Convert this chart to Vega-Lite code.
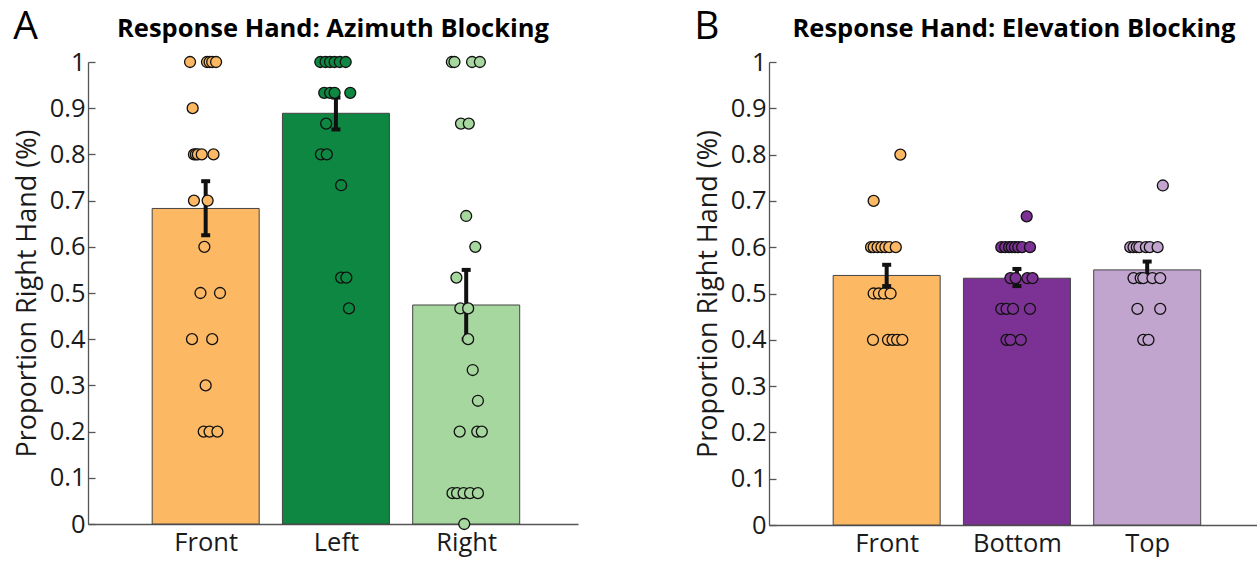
{
  "$schema": "https://vega.github.io/schema/vega-lite/v6.json",
  "background": "white",
  "padding": {"left": 13, "top": 7, "right": 0, "bottom": 0},
  "config": {
    "font": "Open Sans",
    "view": {"stroke": null},
    "axis": {"domainColor": "#555", "tickColor": "#555", "domainWidth": 1.3, "tickWidth": 1.3, "labelColor": "#1a1a1a", "titleColor": "#1a1a1a", "labelFontSize": 25.5, "titleFontSize": 27, "titleFontWeight": "normal", "grid": false},
    "title": {"fontSize": 25.5, "fontWeight": "bold", "color": "#000", "offset": 8}
  },
  "datasets": {
    "barsA": [
      {"cond": "Front", "pos": 1, "mean": 0.683, "lo": 0.625, "hi": 0.742},
      {"cond": "Left", "pos": 2, "mean": 0.889, "lo": 0.854, "hi": 0.923},
      {"cond": "Right", "pos": 3, "mean": 0.474, "lo": 0.400, "hi": 0.550}
    ],
    "barsB": [
      {"cond": "Front", "pos": 1, "mean": 0.539, "lo": 0.516, "hi": 0.562},
      {"cond": "Bottom", "pos": 2, "mean": 0.533, "lo": 0.516, "hi": 0.553},
      {"cond": "Top", "pos": 3, "mean": 0.551, "lo": 0.535, "hi": 0.569}
    ],
    "ptsA": [
      {"cond": "Front", "x": 0.88, "y": 1}, {"cond": "Front", "x": 1.01, "y": 1}, {"cond": "Front", "x": 1.03, "y": 1}, {"cond": "Front", "x": 1.05, "y": 1}, {"cond": "Front", "x": 1.08, "y": 1},
      {"cond": "Front", "x": 0.90, "y": 0.9},
      {"cond": "Front", "x": 0.91, "y": 0.8}, {"cond": "Front", "x": 0.925, "y": 0.8}, {"cond": "Front", "x": 0.94, "y": 0.8}, {"cond": "Front", "x": 0.97, "y": 0.8}, {"cond": "Front", "x": 1.06, "y": 0.8},
      {"cond": "Front", "x": 0.91, "y": 0.7}, {"cond": "Front", "x": 1.015, "y": 0.7},
      {"cond": "Front", "x": 0.99, "y": 0.6},
      {"cond": "Front", "x": 0.96, "y": 0.5}, {"cond": "Front", "x": 1.11, "y": 0.5},
      {"cond": "Front", "x": 0.895, "y": 0.4}, {"cond": "Front", "x": 1.05, "y": 0.4},
      {"cond": "Front", "x": 1.0, "y": 0.3},
      {"cond": "Front", "x": 0.985, "y": 0.2}, {"cond": "Front", "x": 1.03, "y": 0.2}, {"cond": "Front", "x": 1.09, "y": 0.2},
      {"cond": "Left", "x": 1.88, "y": 1}, {"cond": "Left", "x": 1.92, "y": 1}, {"cond": "Left", "x": 1.955, "y": 1}, {"cond": "Left", "x": 1.99, "y": 1}, {"cond": "Left", "x": 2.03, "y": 1}, {"cond": "Left", "x": 2.075, "y": 1},
      {"cond": "Left", "x": 1.91, "y": 0.9333}, {"cond": "Left", "x": 1.955, "y": 0.9333}, {"cond": "Left", "x": 1.99, "y": 0.9333}, {"cond": "Left", "x": 2.11, "y": 0.9333},
      {"cond": "Left", "x": 1.925, "y": 0.8667},
      {"cond": "Left", "x": 1.885, "y": 0.8}, {"cond": "Left", "x": 1.93, "y": 0.8},
      {"cond": "Left", "x": 2.04, "y": 0.7333},
      {"cond": "Left", "x": 2.04, "y": 0.5333}, {"cond": "Left", "x": 2.08, "y": 0.5333},
      {"cond": "Left", "x": 2.10, "y": 0.4667},
      {"cond": "Right", "x": 2.89, "y": 1}, {"cond": "Right", "x": 2.91, "y": 1}, {"cond": "Right", "x": 3.045, "y": 1}, {"cond": "Right", "x": 3.105, "y": 1},
      {"cond": "Right", "x": 2.96, "y": 0.8667}, {"cond": "Right", "x": 3.02, "y": 0.8667},
      {"cond": "Right", "x": 3.0, "y": 0.6667},
      {"cond": "Right", "x": 3.07, "y": 0.6},
      {"cond": "Right", "x": 2.925, "y": 0.5333},
      {"cond": "Right", "x": 2.955, "y": 0.4667}, {"cond": "Right", "x": 3.015, "y": 0.4667},
      {"cond": "Right", "x": 3.015, "y": 0.4},
      {"cond": "Right", "x": 3.05, "y": 0.3333},
      {"cond": "Right", "x": 3.09, "y": 0.2667},
      {"cond": "Right", "x": 2.95, "y": 0.2}, {"cond": "Right", "x": 3.085, "y": 0.2}, {"cond": "Right", "x": 3.12, "y": 0.2},
      {"cond": "Right", "x": 2.895, "y": 0.0667}, {"cond": "Right", "x": 2.93, "y": 0.0667}, {"cond": "Right", "x": 2.98, "y": 0.0667}, {"cond": "Right", "x": 3.03, "y": 0.0667}, {"cond": "Right", "x": 3.09, "y": 0.0667},
      {"cond": "Right", "x": 2.985, "y": 0}
    ],
    "ptsB": [
      {"cond": "Front", "x": 1.105, "y": 0.8},
      {"cond": "Front", "x": 0.90, "y": 0.7},
      {"cond": "Front", "x": 0.88, "y": 0.6}, {"cond": "Front", "x": 0.90, "y": 0.6}, {"cond": "Front", "x": 0.93, "y": 0.6}, {"cond": "Front", "x": 0.96, "y": 0.6}, {"cond": "Front", "x": 0.99, "y": 0.6}, {"cond": "Front", "x": 1.02, "y": 0.6}, {"cond": "Front", "x": 1.07, "y": 0.6},
      {"cond": "Front", "x": 0.90, "y": 0.5}, {"cond": "Front", "x": 0.94, "y": 0.5}, {"cond": "Front", "x": 0.98, "y": 0.5}, {"cond": "Front", "x": 1.03, "y": 0.5},
      {"cond": "Front", "x": 0.895, "y": 0.4}, {"cond": "Front", "x": 1.01, "y": 0.4}, {"cond": "Front", "x": 1.045, "y": 0.4}, {"cond": "Front", "x": 1.08, "y": 0.4}, {"cond": "Front", "x": 1.12, "y": 0.4},
      {"cond": "Bottom", "x": 2.075, "y": 0.6667},
      {"cond": "Bottom", "x": 1.88, "y": 0.6}, {"cond": "Bottom", "x": 1.91, "y": 0.6}, {"cond": "Bottom", "x": 1.94, "y": 0.6}, {"cond": "Bottom", "x": 1.96, "y": 0.6}, {"cond": "Bottom", "x": 1.985, "y": 0.6}, {"cond": "Bottom", "x": 2.01, "y": 0.6}, {"cond": "Bottom", "x": 2.04, "y": 0.6}, {"cond": "Bottom", "x": 2.10, "y": 0.6},
      {"cond": "Bottom", "x": 1.95, "y": 0.5333}, {"cond": "Bottom", "x": 1.99, "y": 0.5333}, {"cond": "Bottom", "x": 2.08, "y": 0.5333}, {"cond": "Bottom", "x": 2.12, "y": 0.5333},
      {"cond": "Bottom", "x": 1.88, "y": 0.4667}, {"cond": "Bottom", "x": 1.92, "y": 0.4667}, {"cond": "Bottom", "x": 1.97, "y": 0.4667}, {"cond": "Bottom", "x": 2.10, "y": 0.4667},
      {"cond": "Bottom", "x": 1.92, "y": 0.4}, {"cond": "Bottom", "x": 1.95, "y": 0.4}, {"cond": "Bottom", "x": 2.03, "y": 0.4},
      {"cond": "Top", "x": 3.12, "y": 0.7333},
      {"cond": "Top", "x": 2.87, "y": 0.6}, {"cond": "Top", "x": 2.895, "y": 0.6}, {"cond": "Top", "x": 2.92, "y": 0.6}, {"cond": "Top", "x": 2.94, "y": 0.6}, {"cond": "Top", "x": 2.99, "y": 0.6}, {"cond": "Top", "x": 3.02, "y": 0.6}, {"cond": "Top", "x": 3.08, "y": 0.6},
      {"cond": "Top", "x": 2.895, "y": 0.5333}, {"cond": "Top", "x": 2.95, "y": 0.5333}, {"cond": "Top", "x": 2.97, "y": 0.5333}, {"cond": "Top", "x": 3.04, "y": 0.5333}, {"cond": "Top", "x": 3.10, "y": 0.5333},
      {"cond": "Top", "x": 2.925, "y": 0.4667}, {"cond": "Top", "x": 3.10, "y": 0.4667},
      {"cond": "Top", "x": 2.97, "y": 0.4}, {"cond": "Top", "x": 3.01, "y": 0.4}
    ]
  },
  "resolve": {"scale": {"fill": "independent"}},
  "spacing": 116,
  "hconcat": [
    {
      "title": {"text": "A", "anchor": "start", "fontSize": 39, "fontWeight": "normal", "offset": -30},
      "hconcat": [
        {
          "width": 490, "height": 462,
          "title": {"text": "Response Hand: Azimuth Blocking"},
          "layer": [
            {
              "data": {"name": "barsA"},
              "mark": {"type": "bar", "size": 107, "stroke": "#444", "strokeWidth": 1},
              "encoding": {
                "x": {"field": "pos", "type": "quantitative", "title": null, "scale": {"domain": [0.135, 3.82], "nice": false, "zero": false}, "axis": {"values": [1, 2, 3], "labelExpr": "datum.value == 1 ? 'Front' : datum.value == 2 ? 'Left' : 'Right'", "tickSize": -7, "labelPadding": 13, "labelFontSize": 25.5}},
                "y": {"field": "mean", "type": "quantitative", "title": "Proportion Right Hand (%)", "scale": {"domain": [0, 1], "nice": false}, "axis": {"values": [0, 0.1, 0.2, 0.3, 0.4, 0.5, 0.6, 0.7, 0.8, 0.9, 1], "format": ".1~f", "tickSize": -7, "labelPadding": 10, "titlePadding": 8}},
                "fill": {"field": "cond", "type": "nominal", "scale": {"domain": ["Front", "Left", "Right"], "range": ["#fdb863", "#0e8742", "#a6d79e"]}, "legend": null}
              }
            },
            {
              "data": {"name": "barsA"},
              "mark": {"type": "rule", "strokeWidth": 4, "color": "#111"},
              "encoding": {
                "x": {"field": "pos", "type": "quantitative", "title": null},
                "y": {"field": "lo", "type": "quantitative", "title": "Proportion Right Hand (%)"},
                "y2": {"field": "hi"}
              }
            },
            {
              "data": {"name": "barsA"},
              "mark": {"type": "tick", "orient": "horizontal", "size": 9, "thickness": 4, "color": "#111", "opacity": 1},
              "encoding": {
                "x": {"field": "pos", "type": "quantitative", "title": null},
                "y": {"field": "hi", "type": "quantitative", "title": "Proportion Right Hand (%)"}
              }
            },
            {
              "data": {"name": "barsA"},
              "mark": {"type": "tick", "orient": "horizontal", "size": 9, "thickness": 4, "color": "#111", "opacity": 1},
              "encoding": {
                "x": {"field": "pos", "type": "quantitative", "title": null},
                "y": {"field": "lo", "type": "quantitative", "title": "Proportion Right Hand (%)"}
              }
            },
            {
              "data": {"name": "ptsA"},
              "mark": {"type": "circle", "size": 120, "stroke": "#111", "strokeWidth": 1.3, "opacity": 1},
              "encoding": {
                "x": {"field": "x", "type": "quantitative", "title": null},
                "y": {"field": "y", "type": "quantitative", "title": "Proportion Right Hand (%)"},
                "fill": {"field": "cond", "type": "nominal", "legend": null}
              }
            }
          ]
        }
      ]
    },
    {
      "title": {"text": "B", "anchor": "start", "fontSize": 39, "fontWeight": "normal", "offset": -30},
      "hconcat": [
        {
          "width": 490, "height": 463,
          "title": {"text": "Response Hand: Elevation Blocking"},
          "layer": [
            {
              "data": {"name": "barsB"},
              "mark": {"type": "bar", "size": 107, "stroke": "#444", "strokeWidth": 1},
              "encoding": {
                "x": {"field": "pos", "type": "quantitative", "title": null, "scale": {"domain": [0.135, 3.82], "nice": false, "zero": false}, "axis": {"values": [1, 2, 3], "labelExpr": "datum.value == 1 ? 'Front' : datum.value == 2 ? 'Bottom' : 'Top'", "tickSize": -7, "labelPadding": 13, "labelFontSize": 25.5}},
                "y": {"field": "mean", "type": "quantitative", "title": "Proportion Right Hand (%)", "scale": {"domain": [0, 1], "nice": false}, "axis": {"values": [0, 0.1, 0.2, 0.3, 0.4, 0.5, 0.6, 0.7, 0.8, 0.9, 1], "format": ".1~f", "tickSize": -7, "labelPadding": 10, "titlePadding": 8}},
                "fill": {"field": "cond", "type": "nominal", "scale": {"domain": ["Front", "Bottom", "Top"], "range": ["#fdb863", "#7b3294", "#c2a5cf"]}, "legend": null}
              }
            },
            {
              "data": {"name": "barsB"},
              "mark": {"type": "rule", "strokeWidth": 4, "color": "#111"},
              "encoding": {
                "x": {"field": "pos", "type": "quantitative", "title": null},
                "y": {"field": "lo", "type": "quantitative", "title": "Proportion Right Hand (%)"},
                "y2": {"field": "hi"}
              }
            },
            {
              "data": {"name": "barsB"},
              "mark": {"type": "tick", "orient": "horizontal", "size": 9, "thickness": 4, "color": "#111", "opacity": 1},
              "encoding": {
                "x": {"field": "pos", "type": "quantitative", "title": null},
                "y": {"field": "hi", "type": "quantitative", "title": "Proportion Right Hand (%)"}
              }
            },
            {
              "data": {"name": "barsB"},
              "mark": {"type": "tick", "orient": "horizontal", "size": 9, "thickness": 4, "color": "#111", "opacity": 1},
              "encoding": {
                "x": {"field": "pos", "type": "quantitative", "title": null},
                "y": {"field": "lo", "type": "quantitative", "title": "Proportion Right Hand (%)"}
              }
            },
            {
              "data": {"name": "ptsB"},
              "mark": {"type": "circle", "size": 120, "stroke": "#111", "strokeWidth": 1.3, "opacity": 1},
              "encoding": {
                "x": {"field": "x", "type": "quantitative", "title": null},
                "y": {"field": "y", "type": "quantitative", "title": "Proportion Right Hand (%)"},
                "fill": {"field": "cond", "type": "nominal", "legend": null}
              }
            }
          ]
        }
      ]
    }
  ]
}
